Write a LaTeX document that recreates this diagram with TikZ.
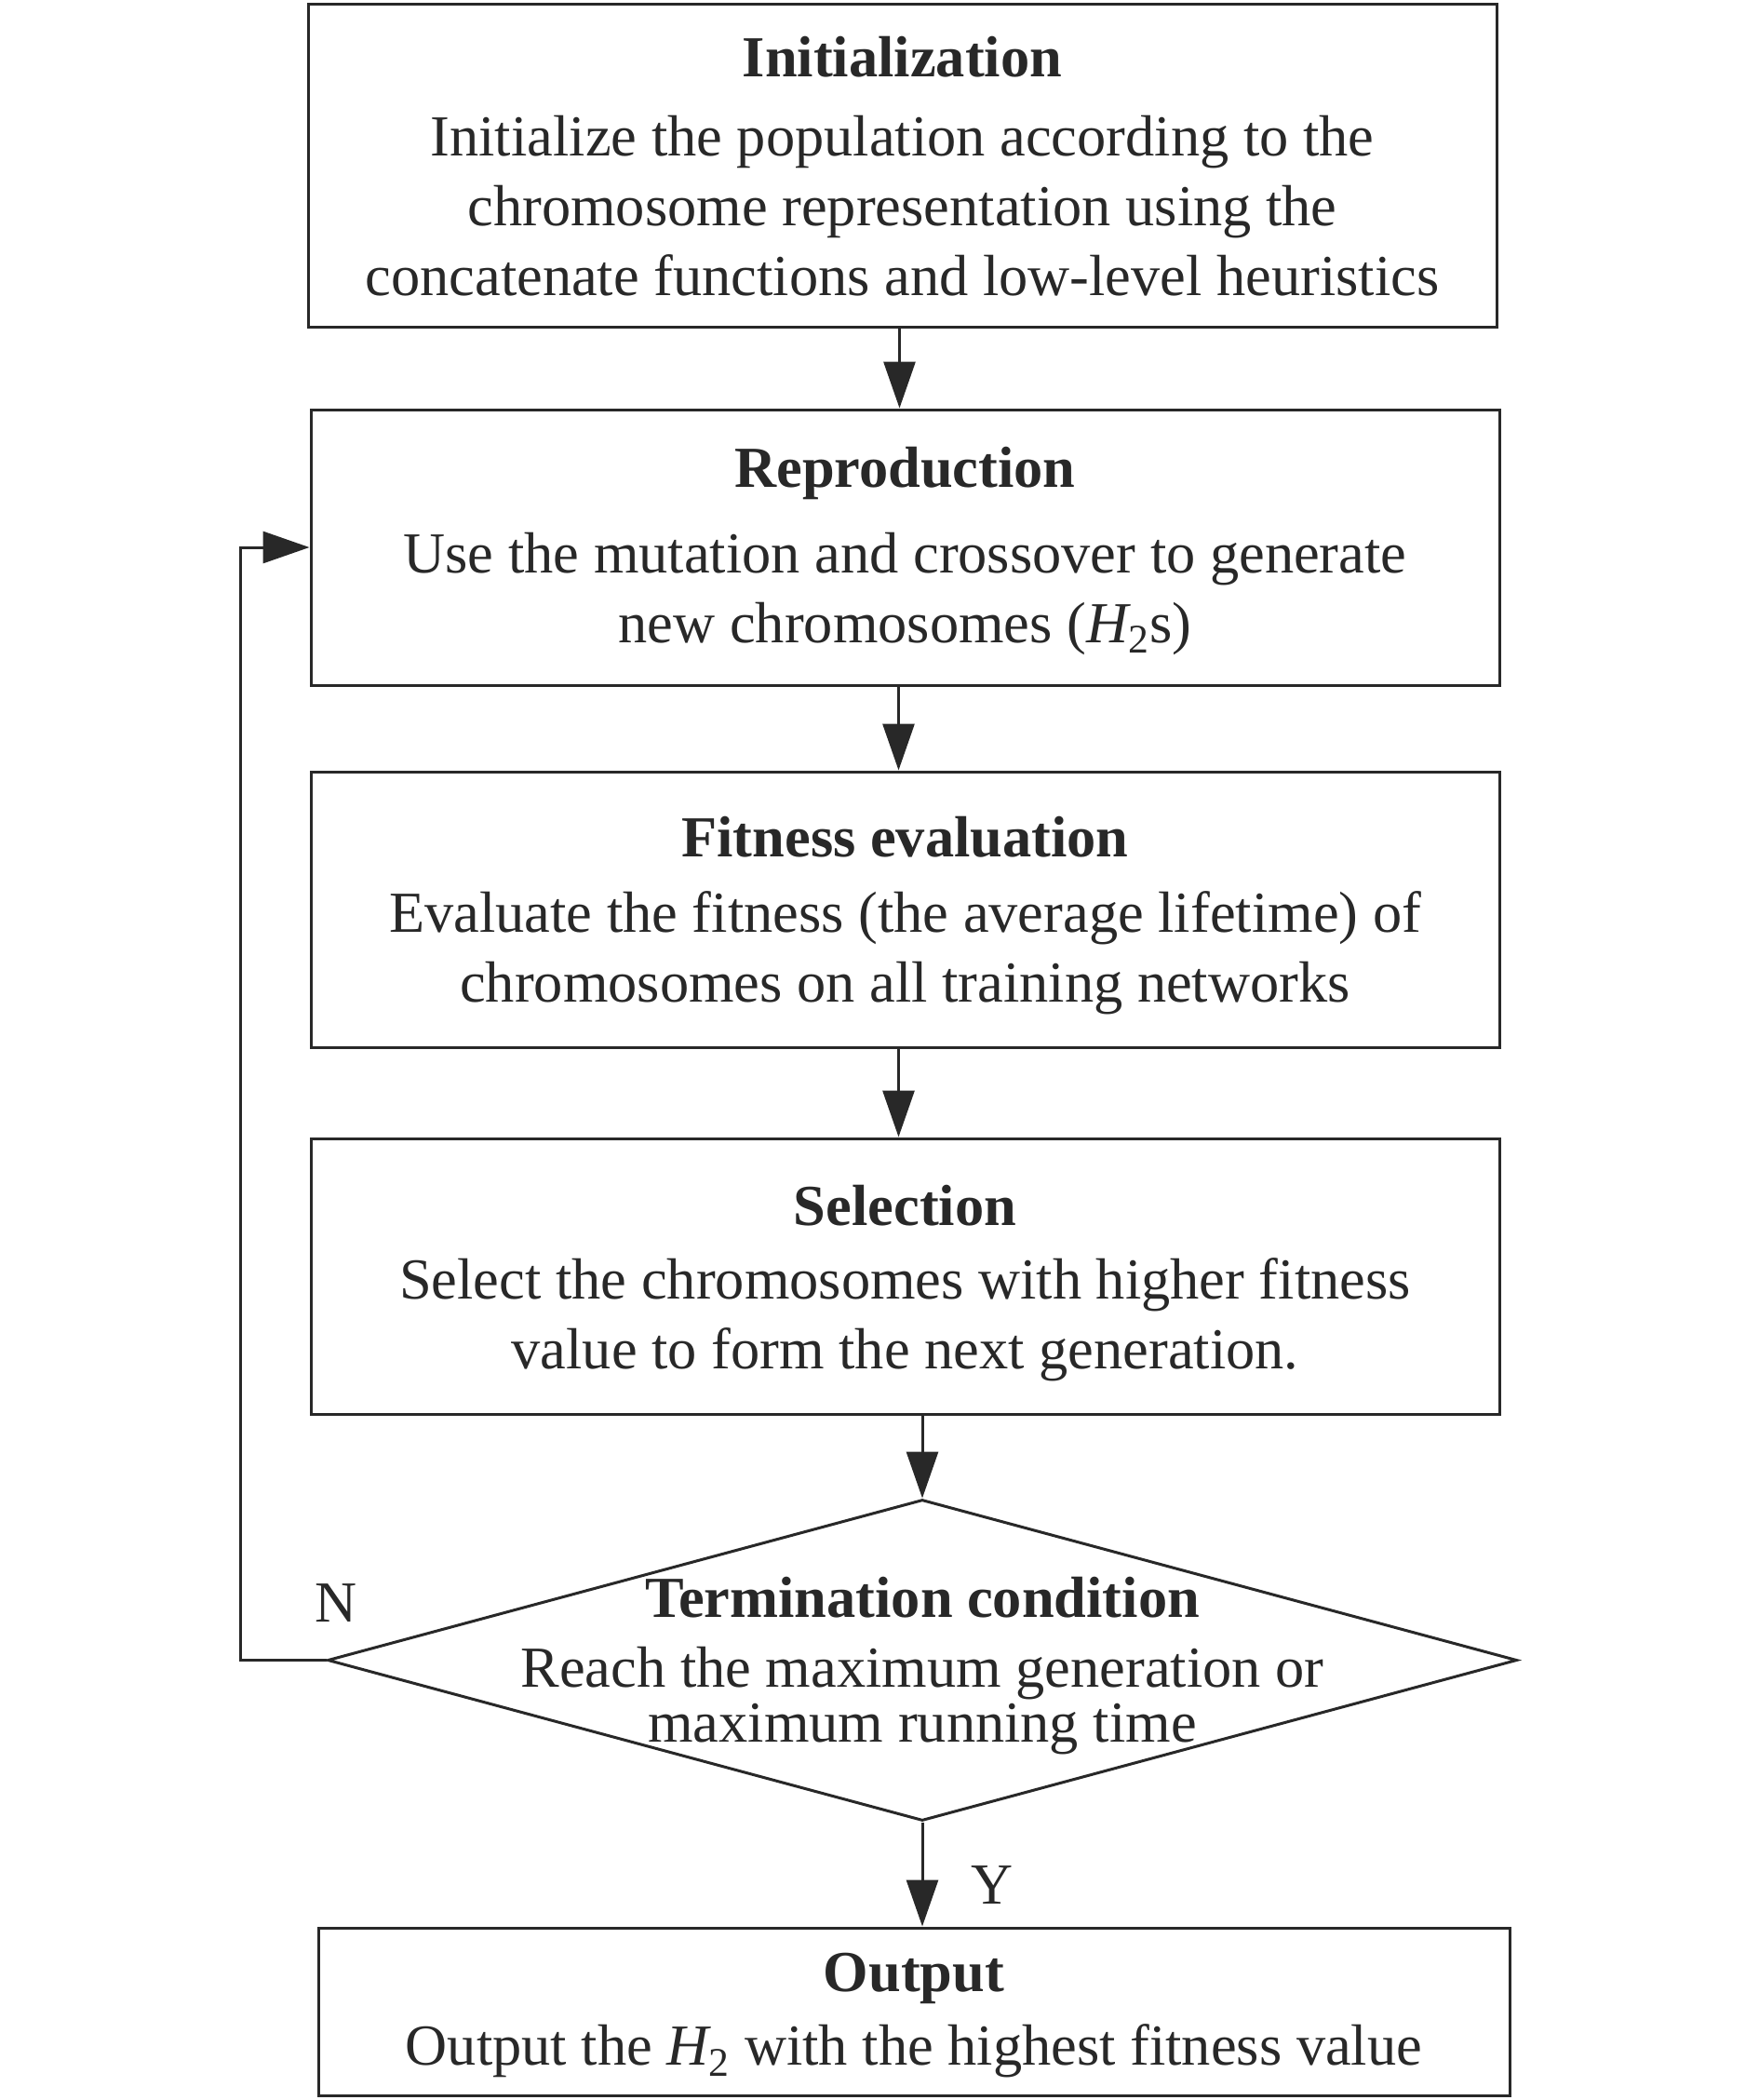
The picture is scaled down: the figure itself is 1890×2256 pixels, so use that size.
\documentclass[tikz,border=0pt]{standalone}
\usepackage{fontspec}
\setmainfont{Liberation Serif}
\usetikzlibrary{arrows.meta,shapes.geometric}
\definecolor{ink}{RGB}{40,40,40}
\begin{document}
\begin{tikzpicture}[x=0.5pt,y=-0.5pt,
  box/.style={draw=ink, line width=1.5pt, minimum width=638.5pt, minimum height=148pt, inner sep=0pt},
  txt/.style={align=center, inner sep=0pt, text=ink, font=\fontsize{31.2}{37.5}\selectfont},
  cond/.style={diamond, draw=ink, line width=1.5pt, minimum width=639pt, minimum height=172.5pt, inner sep=0pt},
  condtxt/.style={text=ink, align=center, inner sep=0pt, font=\fontsize{31.2}{29.5}\selectfont},
  lbl/.style={text=ink, inner sep=0pt, font=\fontsize{31.2}{37.5}\selectfont},
  arr/.style={draw=ink, line width=1.5pt, -{Triangle[length=25pt,width=17pt]}}]
\useasboundingbox (0,0) rectangle (1890,2256);

\node[box, minimum height=173.5pt] (init) at (969.5,177.5) {};
\node[txt] (inittext) at (969.5,178.5)
  {\textbf{Initialization}\\[5pt]
   Initialize the population according to the\\
   chromosome representation using the\\
   concatenate functions and low-level heuristics};

\node[box] (repro) at (972.5,588) {};
\node[txt] (reprotext) at (972.5,591.5)
  {\textbf{Reproduction}\\[8.5pt]
   Use the mutation and crossover to generate\\
   new chromosomes ({\itshape H}\textsubscript{2}s)};

\node[box] (fit) at (972.5,977) {};
\node[txt] (fittext) at (972.5,984)
  {\textbf{Fitness evaluation}\\[3pt]
   Evaluate the fitness (the average lifetime) of\\
   chromosomes on all training networks};

\node[box] (sel) at (972.5,1371) {};
\node[txt] (seltext) at (972.5,1379)
  {\textbf{Selection}\\[2pt]
   Select the chromosomes with higher fitness\\
   value to form the next generation.};

\node[cond] (cond) at (991,1783.5) {};
\node[condtxt] (condtext) at (991,1789.5)
  {\textbf{Termination condition}\\[8pt]
   Reach the maximum generation or\\
   maximum running time};

\node[box, minimum width=640pt, minimum height=90pt] (out) at (982,2161) {};
\node[txt] (outtext) at (982,2165)
  {\textbf{Output}\\[2pt]
   Output the {\itshape H}\textsubscript{2} with the highest fitness value};

\draw[arr] ([xshift=-1.5pt]init.south) -- ([xshift=-1.5pt]init.south |- repro.north);
\draw[arr] ([xshift=-3.5pt]repro.south) -- ([xshift=-3.5pt]fit.north);
\draw[arr] ([xshift=-3.5pt]fit.south) -- ([xshift=-3.5pt]sel.north);
\draw[arr] (sel.south -| cond.north) -- (cond.north);
\draw[arr] (cond.south) -- (cond.south |- out.north);
\draw[arr] (cond.west) -- ++(-92,0) |- (repro.west);

\node[lbl] (nlbl) at (361,1722) {N};
\node[lbl] (ylbl) at (1066,2025) {Y};
\end{tikzpicture}
\end{document}
